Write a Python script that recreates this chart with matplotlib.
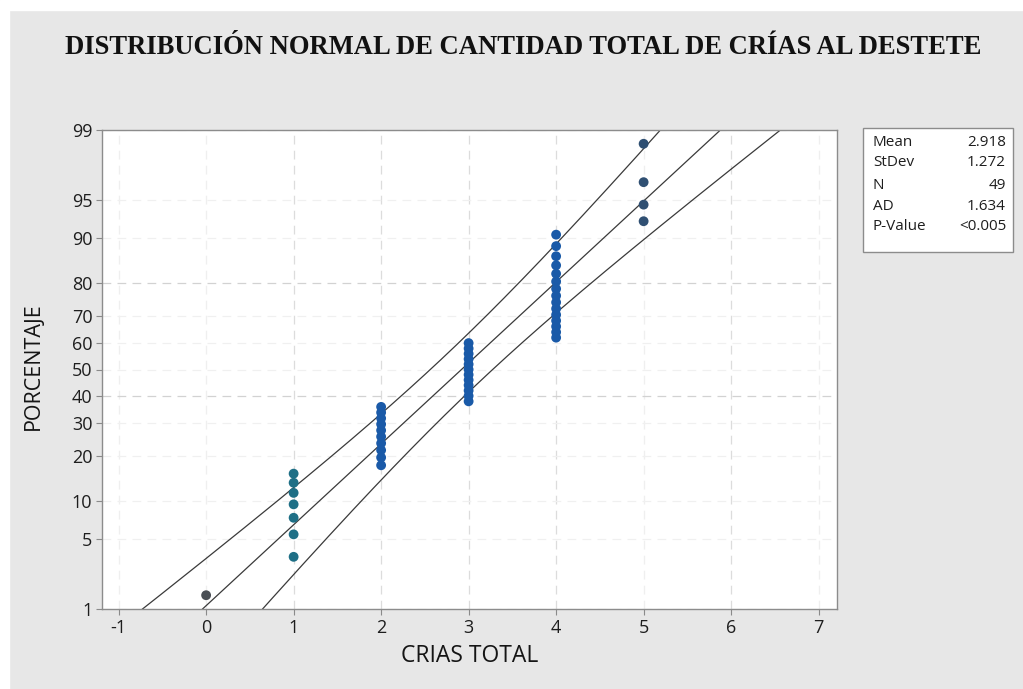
import matplotlib
matplotlib.use("Agg")
import matplotlib.pyplot as plt
from matplotlib.patches import Rectangle
from statistics import NormalDist
import numpy as np

# ---- data ----
values = [0, 1, 2, 3, 4, 5]
counts = [1, 7, 10, 12, 15, 4]
point_colors = ["#4a4f55", "#1e6f86", "#1a5aa8", "#1a5aa8", "#1a5aa8", "#2f4f72"]
y_ticks_pct = [1, 5, 10, 20, 30, 40, 50, 60, 70, 80, 90, 95, 99]
x_ticks = [-1, 0, 1, 2, 3, 4, 5, 6, 7]
title = "DISTRIBUCIÓN NORMAL DE CANTIDAD TOTAL DE CRÍAS AL DESTETE"
xlabel = "CRIAS TOTAL"
ylabel = "PORCENTAJE"
stats_labels = ["Mean", "StDev", "N", "AD", "P-Value"]
stats_values = ["2.918", "1.272", "49", "1.634", "<0.005"]

nd = NormalDist()
data = np.repeat(values, counts)
n = len(data)
mean = data.mean()
sd = data.std(ddof=1)
ranks = np.arange(1, n + 1)
pp = (ranks - 0.3) / (n + 0.4)           # median ranks
zpts = np.array([nd.inv_cdf(p) for p in pp])
cols = np.repeat(point_colors, counts)

fig = plt.figure(figsize=(10.23, 6.89), dpi=100, facecolor="#e7e7e7")
# white margin on top / left
fig.patches.append(Rectangle((0, 0), 9 / 1023, 1, transform=fig.transFigure, color="white", zorder=0))
fig.patches.append(Rectangle((0, 1 - 10 / 689), 1, 10 / 689, transform=fig.transFigure, color="white", zorder=0))

ax = fig.add_axes([102 / 1023, 80 / 689, (837 - 102) / 1023, (609 - 130) / 689])
ax.set_facecolor("white")

zlo, zhi = nd.inv_cdf(0.01), nd.inv_cdf(0.99)
ax.set_ylim(zlo, zhi)
ax.set_xlim(-1.19, 7.21)

# grid (faint, as in the reference)
for xv in x_ticks:
    c = "#dcdcdc" if xv in (1, 2, 3, 4, 6) else "#efefef"
    ax.axvline(xv, color=c, lw=0.9, ls=(0, (7, 5)), zorder=1)
for p in y_ticks_pct:
    c = "#d2d2d2" if p in (40, 80) else "#f0f0f0"
    ax.axhline(nd.inv_cdf(p / 100), color=c, lw=0.9, ls=(0, (7, 5)), zorder=1)

# fit line and 95% CI bands
zz = np.linspace(zlo - 0.3, zhi + 0.3, 300)
xfit = mean + sd * zz
half = 1.96 * sd / np.sqrt(n) * np.sqrt(1 + zz ** 2 / 2)
for xs in (xfit, xfit - half, xfit + half):
    ax.plot(xs, zz, color="#3a3a3a", lw=0.9, zorder=2)

ax.scatter(data, zpts, s=50, c=cols, edgecolors="none", zorder=3)

ax.set_yticks([nd.inv_cdf(p / 100) for p in y_ticks_pct])
ax.set_yticklabels([str(p) for p in y_ticks_pct])
ax.set_xticks(x_ticks)
ax.set_xticklabels([str(v) for v in x_ticks])
ax.tick_params(direction="out", length=4, width=0.8, color="#8a8a8a",
               labelsize=13, labelcolor="#1e1e1e", pad=3)
for lab in ax.get_xticklabels() + ax.get_yticklabels():
    lab.set_family("Open Sans")
for s in ax.spines.values():
    s.set_color("#8c8c8c")
    s.set_linewidth(1.0)

fig.text(470 / 1023, 1 - 656 / 689, xlabel, ha="center", va="center",
         fontsize=16.5, family="Open Sans", color="#151515")
fig.text(33.5 / 1023, 1 - 366 / 689, ylabel, ha="center", va="center", rotation=90,
         fontsize=15.5, family="Open Sans", color="#151515")

fig.text(523 / 1023, 1 - 48 / 689, title, ha="center", va="center",
         fontsize=19.2, family="Liberation Serif", fontweight="bold", color="#111111")

# stats box
bx0, by0, bx1, by1 = 863, 128, 1013, 252
fig.patches.append(Rectangle((bx0 / 1023, 1 - by1 / 689), (bx1 - bx0) / 1023, (by1 - by0) / 689,
                             transform=fig.transFigure, facecolor="white",
                             edgecolor="#8c8c8c", lw=1.0, zorder=1))
ys = [142, 163, 185, 206, 226]
for lab, val, y in zip(stats_labels, stats_values, ys):
    fig.text(873 / 1023, 1 - y / 689, lab, ha="left", va="center", fontsize=11,
             family="Open Sans", color="#1e1e1e")
    fig.text(1006 / 1023, 1 - y / 689, val, ha="right", va="center", fontsize=11,
             family="Open Sans", color="#1e1e1e")

fig.savefig("out.png", dpi=100, facecolor=fig.get_facecolor())
